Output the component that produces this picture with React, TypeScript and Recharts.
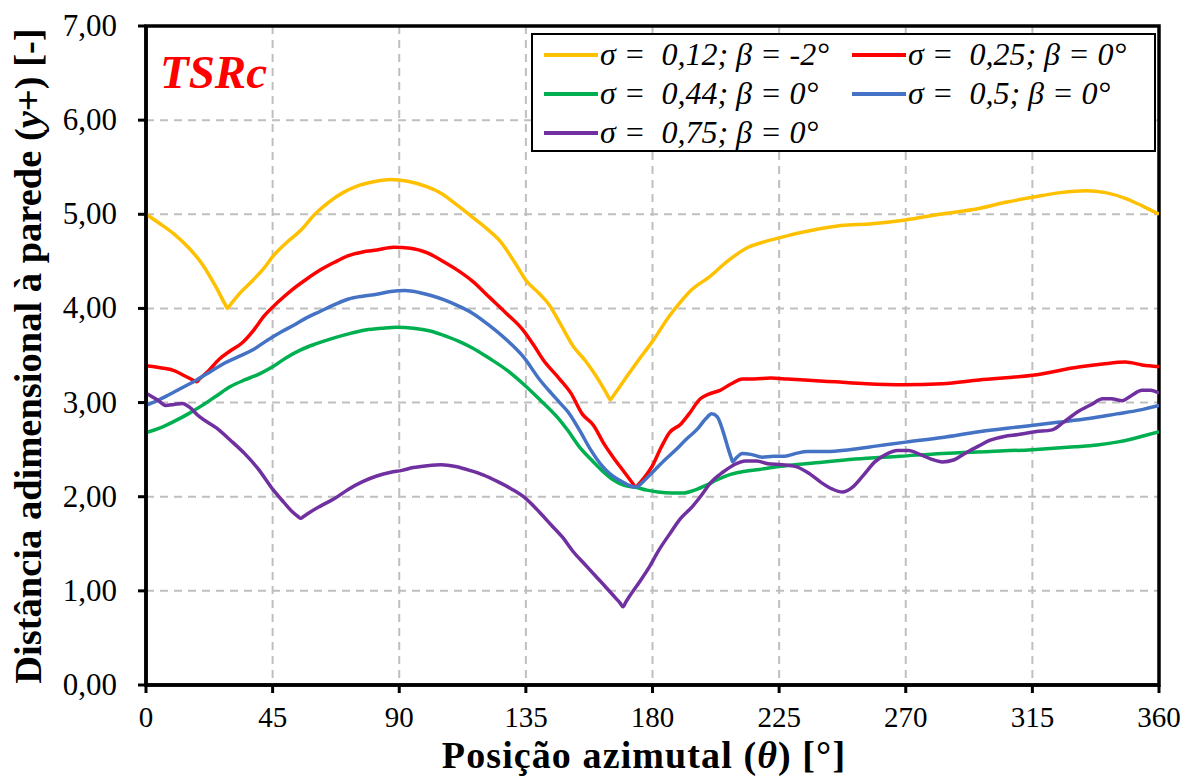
import React from 'react';
import { LineChart, Line, XAxis, YAxis, CartesianGrid, ReferenceArea, Legend } from 'recharts';

const FONT = '"Liberation Serif", "Times New Roman", serif';

// x-axis ticks (azimuthal position, degrees) and y-axis ticks
const xTicks = [0, 45, 90, 135, 180, 225, 270, 315, 360];
const yTicks = [0, 1, 2, 3, 4, 5, 6, 7];

// σ = 0,12; β = -2°
const thetaA = [0, 5, 10, 15, 20, 25, 28, 29, 30, 33, 38, 42, 45, 50, 55, 60, 65, 70, 75, 80, 87, 93, 100, 105, 110, 116, 121, 126, 131, 135, 140, 143, 147, 152, 156, 160, 164, 165, 166, 170, 175, 180, 186, 190, 194, 200, 207, 214, 220, 225, 235, 247, 258, 270, 282, 294, 306, 315, 325, 334, 341, 348, 354, 360];
const valuesA = [5.00, 4.90, 4.79, 4.65, 4.47, 4.22, 4.05, 4.00, 4.04, 4.15, 4.30, 4.43, 4.55, 4.70, 4.83, 5.00, 5.13, 5.23, 5.30, 5.34, 5.37, 5.35, 5.29, 5.22, 5.11, 4.97, 4.85, 4.71, 4.49, 4.30, 4.15, 4.05, 3.85, 3.59, 3.45, 3.28, 3.08, 3.03, 3.07, 3.24, 3.45, 3.65, 3.92, 4.07, 4.20, 4.33, 4.51, 4.65, 4.71, 4.75, 4.82, 4.88, 4.90, 4.94, 5.00, 5.05, 5.13, 5.18, 5.23, 5.25, 5.23, 5.17, 5.09, 5.00];

// σ = 0,25; β = 0°
const thetaB = [0, 5, 10, 14, 17, 18, 19, 22, 26, 30, 34, 38, 42, 47, 52, 57, 62, 67, 72, 77, 82, 88, 94, 100, 105, 110, 116, 122, 128, 134, 138, 141, 147, 151, 155, 159, 163, 166, 170, 173, 174, 175, 177, 180, 183, 186, 190, 193, 197, 200, 204, 208, 212, 216, 222, 228, 234, 245, 256, 269, 283, 296, 315, 332, 340, 348, 354, 360];
const valuesB = [3.39, 3.37, 3.34, 3.28, 3.235, 3.22, 3.25, 3.33, 3.46, 3.55, 3.63, 3.76, 3.92, 4.07, 4.20, 4.31, 4.41, 4.49, 4.56, 4.60, 4.62, 4.65, 4.64, 4.59, 4.51, 4.42, 4.29, 4.12, 3.95, 3.77, 3.60, 3.46, 3.25, 3.10, 2.88, 2.76, 2.55, 2.42, 2.26, 2.14, 2.10, 2.13, 2.20, 2.33, 2.52, 2.68, 2.77, 2.88, 3.04, 3.09, 3.13, 3.20, 3.25, 3.25, 3.26, 3.25, 3.24, 3.22, 3.20, 3.19, 3.20, 3.24, 3.29, 3.38, 3.41, 3.43, 3.40, 3.38];

// σ = 0,44; β = 0°
const thetaC = [0, 5, 10, 15, 20, 25, 30, 35, 40, 45, 50, 55, 60, 66, 72, 78, 84, 89, 95, 101, 107, 112, 116, 122, 128, 134, 140, 146, 150, 154, 158, 162, 166, 170, 174, 178, 182, 187, 191, 195, 199, 203, 207, 211, 218, 225, 238, 252, 268, 283, 300, 315, 330, 338, 345, 350, 355, 360];
const valuesC = [2.68, 2.73, 2.80, 2.88, 2.97, 3.07, 3.17, 3.24, 3.30, 3.38, 3.48, 3.56, 3.62, 3.68, 3.73, 3.77, 3.79, 3.80, 3.79, 3.76, 3.70, 3.64, 3.58, 3.47, 3.35, 3.20, 3.03, 2.85, 2.70, 2.53, 2.40, 2.28, 2.18, 2.12, 2.10, 2.07, 2.05, 2.04, 2.04, 2.07, 2.12, 2.18, 2.23, 2.26, 2.29, 2.32, 2.36, 2.40, 2.43, 2.46, 2.48, 2.50, 2.53, 2.55, 2.58, 2.61, 2.65, 2.69];

// σ = 0,5; β = 0°
const thetaD = [0, 4, 8, 13, 18, 23, 28, 33, 38, 43, 48, 53, 57, 62, 67, 72, 77, 82, 87, 92, 97, 101, 106, 110, 116, 122, 128, 134, 140, 144, 147, 150, 154, 158, 162, 165, 168, 171, 174, 177, 180, 184, 188, 192, 196, 199, 201, 203, 205, 207, 208, 208.5, 209, 210, 212, 215, 219, 223, 227, 231, 235, 242, 250, 260, 270, 283, 296, 310, 324, 335, 345, 353, 360];
const valuesD = [2.97, 3.02, 3.08, 3.16, 3.24, 3.33, 3.42, 3.49, 3.56, 3.66, 3.75, 3.83, 3.90, 3.97, 4.04, 4.10, 4.13, 4.15, 4.18, 4.19, 4.17, 4.14, 4.09, 4.04, 3.95, 3.82, 3.67, 3.49, 3.24, 3.10, 3.00, 2.90, 2.71, 2.50, 2.33, 2.24, 2.18, 2.13, 2.10, 2.17, 2.26, 2.38, 2.49, 2.61, 2.72, 2.83, 2.88, 2.85, 2.70, 2.50, 2.41, 2.37, 2.385, 2.42, 2.46, 2.45, 2.42, 2.43, 2.43, 2.46, 2.48, 2.48, 2.50, 2.54, 2.58, 2.63, 2.69, 2.74, 2.79, 2.83, 2.88, 2.92, 2.97];

// σ = 0,75; β = 0°
const thetaE = [0, 4, 7, 10, 13, 15, 19, 25, 30, 35, 40, 45, 49, 52, 54, 55, 56, 58, 62, 67, 72, 77, 82, 87, 91, 95, 100, 105, 110, 115, 120, 125, 130, 135, 140, 144, 148, 152, 156, 160, 164, 167, 168.5, 169.5, 170.5, 172, 175.5, 179, 182, 186, 190, 194, 197, 201, 205, 209, 213, 217, 221, 226, 231, 236, 240, 244, 247.5, 251, 255, 259, 263, 267, 271, 275, 279, 283, 287, 291, 296, 300, 305, 310, 316, 322, 326, 331, 336, 340, 343, 347, 350, 354, 357, 360];
const valuesE = [3.10, 3.03, 2.97, 2.98, 2.99, 2.96, 2.85, 2.73, 2.60, 2.46, 2.29, 2.08, 1.94, 1.84, 1.79, 1.77, 1.79, 1.83, 1.90, 1.98, 2.08, 2.16, 2.22, 2.26, 2.28, 2.31, 2.33, 2.34, 2.32, 2.28, 2.23, 2.16, 2.08, 1.98, 1.83, 1.70, 1.57, 1.41, 1.28, 1.15, 1.02, 0.92, 0.87, 0.83, 0.88, 0.95, 1.10, 1.26, 1.42, 1.60, 1.77, 1.89, 2.00, 2.16, 2.26, 2.34, 2.38, 2.38, 2.35, 2.34, 2.32, 2.24, 2.15, 2.08, 2.05, 2.10, 2.23, 2.37, 2.45, 2.49, 2.49, 2.45, 2.40, 2.37, 2.39, 2.46, 2.54, 2.60, 2.64, 2.66, 2.69, 2.71, 2.79, 2.90, 2.98, 3.04, 3.04, 3.02, 3.07, 3.13, 3.13, 3.10];

const seriesNames = [
  'σ =  0,12; β = -2°',
  'σ =  0,25; β = 0°',
  'σ =  0,44; β = 0°',
  'σ =  0,5; β = 0°',
  'σ =  0,75; β = 0°',
];
const seriesColors = ['#FFC000', '#FF0000', '#00B050', '#4472C4', '#7030A0'];

const toData = (t: number[], v: number[]) => t.map((x, i) => ({ x, y: v[i] }));
const seriesData = [
  toData(thetaA, valuesA),
  toData(thetaB, valuesB),
  toData(thetaC, valuesC),
  toData(thetaD, valuesD),
  toData(thetaE, valuesE),
];

const fmt = (v: number) => v.toFixed(2).replace('.', ',');

const YTick = (props: any) => {
  const { x, y, payload } = props;
  return (
    <text x={x} y={y} dy={10} textAnchor="end" fontFamily={FONT} fontSize={31} fill="#000">
      {fmt(payload.value)}
    </text>
  );
};

const XTick = (props: any) => {
  const { x, y, payload } = props;
  return (
    <text x={x} y={y} dy={30} textAnchor="middle" fontFamily={FONT} fontSize={29} fill="#000">
      {payload.value}
    </text>
  );
};

// legend slots: [row, col]
const legendSlots = [
  [0, 0],
  [0, 1],
  [1, 0],
  [1, 1],
  [2, 0],
];

const renderLegend = () => {
  const rowCenters = [22, 61, 100];
  const lineLeft = [13, 321];
  const textLeft = [69, 377];
  return (
    <div
      style={{
        position: 'relative',
        width: 625,
        height: 119,
        border: '2px solid #000',
        boxSizing: 'border-box',
        background: '#fff',
      }}
    >
      {seriesNames.map((name, i) => {
        const [r, c] = legendSlots[i];
        const cy = rowCenters[r] - 2;
        return (
          <React.Fragment key={name}>
            <div
              style={{
                position: 'absolute',
                left: lineLeft[c] - 2,
                top: cy - 2,
                width: 54,
                height: 4,
                background: seriesColors[i],
              }}
            />
            <div
              style={{
                position: 'absolute',
                left: textLeft[c] - 2,
                top: cy - 21,
                height: 40,
                lineHeight: '40px',
                fontFamily: FONT,
                fontStyle: 'italic',
                fontSize: 32,
                whiteSpace: 'pre',
                color: '#000',
              }}
            >
              {name}
            </div>
          </React.Fragment>
        );
      })}
    </div>
  );
};

export default function App() {
  return (
    <div style={{ position: 'absolute', left: 0, top: 0, width: 1196, height: 776, background: '#fff' }}>
      <LineChart width={1196} height={776} margin={{ top: 26, right: 37, bottom: 51, left: 66 }}>
        <CartesianGrid stroke="#BFBFBF" strokeWidth={2} strokeDasharray="8 6" />
        <XAxis
          type="number"
          dataKey="x"
          domain={[0, 360]}
          ticks={xTicks}
          interval={0}
          height={40}
          tick={<XTick />}
          tickSize={8}
          tickMargin={4}
          axisLine={{ stroke: '#000', strokeWidth: 3.5 }}
          tickLine={{ stroke: '#000', strokeWidth: 3 }}
          allowDataOverflow
        />
        <YAxis
          type="number"
          domain={[0, 7]}
          ticks={yTicks}
          interval={0}
          width={80}
          tick={<YTick />}
          tickSize={8}
          tickMargin={21}
          axisLine={{ stroke: '#000', strokeWidth: 3.5 }}
          tickLine={{ stroke: '#000', strokeWidth: 3 }}
          allowDataOverflow
        />
        <ReferenceArea x1={0} x2={360} y1={0} y2={7} fill="none" fillOpacity={0} stroke="#000" strokeWidth={3.5} ifOverflow="visible" />
        {seriesData.map((d, i) => (
          <Line
            key={seriesNames[i]}
            data={d}
            dataKey="y"
            name={seriesNames[i]}
            type="monotoneX"
            stroke={seriesColors[i]}
            strokeWidth={3.5}
            dot={false}
            activeDot={false}
            isAnimationActive={false}
          />
        ))}
        <Legend
          layout="horizontal"
          align="center"
          verticalAlign="middle"
          content={renderLegend}
          wrapperStyle={{ position: 'absolute', left: 531, top: 33, width: 625, height: 119 }}
        />
        <text x={160} y={88} fontFamily={FONT} fontSize={47} fontWeight="bold" fontStyle="italic" fill="#FF0000">
          TSRc
        </text>
        <text
          x={644}
          y={768}
          textAnchor="middle"
          fontFamily={FONT}
          fontSize={38}
          fontWeight="bold"
          letterSpacing={1.1}
          fill="#000"
        >
          Posição azimutal (<tspan fontStyle="italic">θ</tspan>) [°]
        </text>
        <text
          transform="translate(41,356) rotate(-90)"
          textAnchor="middle"
          fontFamily={FONT}
          fontSize={38.5}
          fontWeight="bold"
          fill="#000"
        >
          Distância adimensional à parede (<tspan fontStyle="italic">y</tspan>+) [-]
        </text>
      </LineChart>
    </div>
  );
}
